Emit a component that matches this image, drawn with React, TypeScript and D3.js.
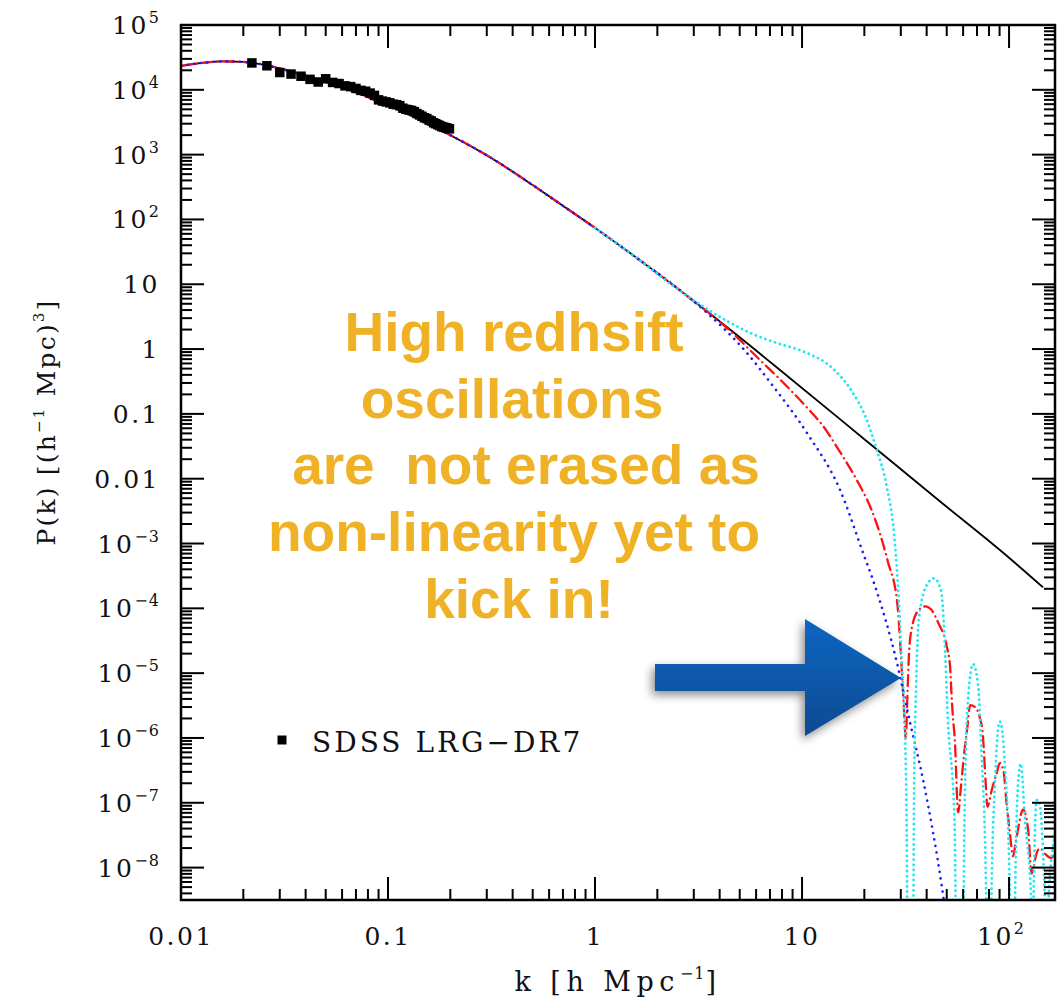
import React from "react";
import * as d3 from "d3";

const W = 1059;
const H = 1003;
const L = 181;
const T = 25;
const R = 1055;
const B = 900;

const kDomain = [0.01, Math.pow(10, 2.222)];
const pDomain = [Math.pow(10, -8.5), 1e5];

// Linear-theory (black solid) curve
const blackK = [0.01, 0.013, 0.016, 0.02, 0.025, 0.03, 0.04, 0.05, 0.07, 0.1, 0.15, 0.2, 0.3, 0.5, 0.7, 1, 1.5, 2.8, 4.6, 8.75, 20, 46, 100, 146];
const blackP = [2.34e4, 2.63e4, 2.75e4, 2.69e4, 2.45e4, 2.14e4, 1.66e4, 1.32e4, 9.12e3, 5.75e3, 3.24e3, 2.0e3, 977, 339, 162, 74.1, 29.2, 6.53, 1.88, 0.355, 0.0407, 4.57e-3, 6.03e-4, 2.1e-4];

// Blue dotted curve (high-k tail; low k follows black)
const blueK = [3.5, 5.42, 7.16, 10.6, 15.3, 19.9, 22, 28.8, 33.3, 38.5, 47.4, 52];
const blueP = [3.55, 0.87, 0.282, 0.05, 6.6e-3, 6.6e-4, 2.75e-4, 1.4e-5, 1.7e-6, 2.2e-7, 5e-9, 6e-10];

// Red dash-dot curve (high-k tail; low k follows black)
const redK = [4.64, 6.27, 7.9, 10.9, 12.6, 15, 18.4, 21.5, 24.6, 26.0, 28.8, 29.9, 31.0, 31.7, 32.4, 33.0, 34.3, 35.6, 39.3, 41.5, 45.6, 50, 51.9, 52.7, 53.7, 54.6, 56.8, 58.6, 60.7, 62.8, 64.9, 68.5, 72.1, 74.6, 77.3, 78.5, 82.6, 87.2, 90.2, 93.9, 97.2, 100.6, 104.5, 108, 117, 123.7, 128.6, 135.9, 140.6, 150, 160, 166.7];
const redP = [1.74, 0.676, 0.331, 0.112, 0.066, 0.0282, 9.5e-3, 3.5e-3, 1.0e-3, 5.2e-4, 1.26e-4, 2.5e-5, 3.2e-6, 1.0e-6, 6.3e-6, 2.5e-5, 5.9e-5, 8.3e-5, 1.07e-4, 1.0e-4, 5.9e-5, 2.6e-5, 1.26e-5, 4.9e-6, 1.9e-6, 1.05e-6, 7.1e-8, 1.8e-7, 5.8e-7, 1.4e-6, 3.2e-6, 3.0e-6, 2.1e-6, 1.17e-6, 1.8e-7, 8.7e-8, 1.6e-7, 2.9e-7, 4.1e-7, 3.2e-7, 1.0e-7, 3.8e-8, 1.5e-8, 2.6e-8, 7.8e-8, 3.8e-8, 8.1e-9, 1.66e-8, 2.0e-8, 1.6e-8, 1.4e-8, 1.8e-8];

// Cyan dotted curve
const cyanK = [1, 1.5, 2.75, 4.35, 5.68, 7.5, 10.3, 14.1, 17.3, 20.4, 22.7, 25.7, 27.8, 29.0, 30.2, 31.8, 33.0, 34.0, 34.8, 35.6, 36.7, 40.4, 43.5, 46.9, 48.7, 50.6, 54.5, 56.8, 59.0, 60.9, 63.3, 67, 70.8, 73.6, 77.6, 78.5, 81, 82.2, 85.4, 90.2, 95.7, 101, 102, 105.5, 106.9, 110.5, 113.8, 119.4, 128, 129, 130.5, 131.3, 136, 138.6, 149, 150.5, 153.5, 155, 166.7];
const cyanP = [74.1, 29.2, 6.8, 2.7, 1.75, 1.25, 0.9, 0.5, 0.23, 0.085, 0.031, 7.4e-3, 1.45e-3, 2.5e-4, 2.0e-5, 2.5e-7, 1e-12, 1e-12, 1.86e-7, 6.8e-6, 7.2e-5, 2.4e-4, 2.9e-4, 1.9e-4, 4.0e-5, 2.0e-6, 5.5e-8, 1e-12, 1e-12, 5.5e-8, 3.7e-6, 1.38e-5, 6.8e-6, 6.2e-7, 3e-9, 1e-12, 1e-12, 3e-9, 1.86e-7, 1.8e-6, 3.4e-7, 3e-9, 1e-12, 1e-12, 3e-9, 1.86e-7, 4.0e-7, 5.5e-8, 3e-9, 1e-12, 1e-12, 3e-9, 1.1e-7, 1.1e-7, 3e-9, 1e-12, 1e-12, 3e-9, 3.2e-8];

// SDSS LRG-DR7 data points
const sdssK = [0.022, 0.026, 0.030, 0.034, 0.038, 0.042, 0.046, 0.050, 0.054, 0.058, 0.062, 0.066, 0.070, 0.074, 0.078, 0.082, 0.086, 0.090, 0.094, 0.098, 0.102, 0.106, 0.110, 0.114, 0.118, 0.122, 0.126, 0.130, 0.134, 0.138, 0.142, 0.146, 0.150, 0.154, 0.158, 0.162, 0.166, 0.170, 0.174, 0.178, 0.182, 0.186, 0.190, 0.194, 0.198];
const sdssP = [2.6e4, 2.35e4, 1.85e4, 1.75e4, 1.62e4, 1.45e4, 1.32e4, 1.48e4, 1.3e4, 1.25e4, 1.15e4, 1.12e4, 1.05e4, 9.8e3, 9.5e3, 8.9e3, 8.2e3, 7.0e3, 6.7e3, 6.5e3, 6.3e3, 6.0e3, 5.9e3, 5.7e3, 5.2e3, 5.0e3, 4.9e3, 4.8e3, 4.6e3, 4.3e3, 4.1e3, 3.9e3, 3.7e3, 3.6e3, 3.4e3, 3.3e3, 3.1e3, 3.0e3, 2.9e3, 2.8e3, 2.7e3, 2.65e3, 2.6e3, 2.55e3, 2.5e3];

const xMajor = [0.01, 0.1, 1, 10, 100];
const xMajorBase = ["0.01", "0.1", "1", "10", "10"];
const xMajorExp = ["", "", "", "", "2"];
const yMajor = [1e5, 1e4, 1e3, 1e2, 10, 1, 0.1, 0.01, 1e-3, 1e-4, 1e-5, 1e-6, 1e-7, 1e-8];
const yMajorBase = ["10", "10", "10", "10", "10", "1", "0.1", "0.01", "10", "10", "10", "10", "10", "10"];
const yMajorExp = ["5", "4", "3", "2", "", "", "", "", "\u22123", "\u22124", "\u22125", "\u22126", "\u22127", "\u22128"];

const noteLines = ["High redhsift", "oscillations", "are\u00a0 not erased as", "non-linearity yet to", "kick in!"];
const noteX = [514, 512, 526, 514, 519];

const SERIF = "'DejaVu Serif', serif";
const SANS = "'Liberation Sans', Arial, 'Helvetica', sans-serif";

export default function App() {
  const x = d3.scaleLog().domain(kDomain).range([L, R]);
  const y = d3.scaleLog().domain(pDomain).range([B, T]);

  const line = d3
    .line<[number, number]>()
    .x((d) => x(d[0]))
    .y((d) => y(d[1]))
    .curve(d3.curveMonotoneX);

  const zip = (ks: number[], ps: number[]) => ks.map((k, i) => [k, ps[i]] as [number, number]);
  const black = zip(blackK, blackP);
  const lowPart = (kmax: number) => black.filter((d) => d[0] < kmax);
  const blue = lowPart(3.4).concat(zip(blueK, blueP));
  const red = lowPart(4.5).concat(zip(redK, redP));
  const cyan = zip(cyanK, cyanP);

  const xMinor: number[] = [];
  for (let e = -2; e <= 2; e++) for (let m = 2; m <= 9; m++) {
    const v = m * Math.pow(10, e);
    if (v < kDomain[1]) xMinor.push(v);
  }
  const yMinor: number[] = [];
  for (let e = -9; e <= 4; e++) for (let m = 2; m <= 9; m++) {
    const v = m * Math.pow(10, e);
    if (v > pDomain[0] && v < pDomain[1]) yMinor.push(v);
  }
  const MAJ = 23;
  const MIN = 11;
  const sq = 9.5;

  return (
    <svg width={W} height={H} viewBox={`0 0 ${W} ${H}`} style={{ display: "block", position: "absolute", left: 0, top: 0, background: "#fff" }}>
      <defs>
        <clipPath id="plotClip">
          <rect x={L} y={T} width={R - L} height={B - T} />
        </clipPath>
        <linearGradient id="arrowGrad" x1="0" y1="0" x2="0" y2="1">
          <stop offset="0%" stopColor="#0a66c2" />
          <stop offset="100%" stopColor="#0c4a92" />
        </linearGradient>
        <filter id="shadow" x="-20%" y="-30%" width="140%" height="160%">
          <feDropShadow dx="-3" dy="4" stdDeviation="5" floodColor="#000" floodOpacity="0.45" />
        </filter>
      </defs>

      <g clipPath="url(#plotClip)" fill="none">
        <path d={line(black) || ""} stroke="#000" strokeWidth={1.8} />
        <path d={line(red) || ""} stroke="#ff1010" strokeWidth={2.3} strokeDasharray="11,5,0.1,5" strokeLinecap="round" />
        <path d={line(blue) || ""} stroke="#1a1aff" strokeWidth={2.6} strokeDasharray="0.1,6.5" strokeLinecap="round" />
        <path d={line(cyan) || ""} stroke="#22e6f2" strokeWidth={2.8} strokeDasharray="0.1,5" strokeLinecap="round" />
        {sdssK.map((k, i) => (
          <rect key={i} x={x(k) - sq / 2} y={y(sdssP[i]) - sq / 2} width={sq} height={sq} fill="#000" />
        ))}
      </g>

      <rect x={L} y={T} width={R - L} height={B - T} fill="none" stroke="#000" strokeWidth={2.5} />

      <g stroke="#000" strokeWidth={2}>
        {xMajor.map((v, i) => (
          <g key={"xM" + i}>
            <line x1={x(v)} x2={x(v)} y1={B} y2={B - MAJ} />
            <line x1={x(v)} x2={x(v)} y1={T} y2={T + MAJ} />
          </g>
        ))}
        {xMinor.map((v, i) => (
          <g key={"xm" + i}>
            <line x1={x(v)} x2={x(v)} y1={B} y2={B - MIN} />
            <line x1={x(v)} x2={x(v)} y1={T} y2={T + MIN} />
          </g>
        ))}
        {yMajor.map((v, i) => (
          <g key={"yM" + i}>
            <line x1={L} x2={L + MAJ} y1={y(v)} y2={y(v)} />
            <line x1={R} x2={R - MAJ} y1={y(v)} y2={y(v)} />
          </g>
        ))}
        {yMinor.map((v, i) => (
          <g key={"ym" + i}>
            <line x1={L} x2={L + MIN} y1={y(v)} y2={y(v)} />
            <line x1={R} x2={R - MIN} y1={y(v)} y2={y(v)} />
          </g>
        ))}
      </g>

      <g fontFamily={SERIF} fontSize={25} fill="#111" letterSpacing={2.5}>
        {yMajor.map((v, i) => (
          <text key={"yl" + i} x={160} y={y(v) + 9} textAnchor="end">
            {yMajorBase[i]}
            {yMajorExp[i] ? (
              <tspan fontSize={16} dy={-11} letterSpacing={1}>{yMajorExp[i]}</tspan>
            ) : null}
          </text>
        ))}
        {xMajor.map((v, i) => (
          <text key={"xl" + i} x={x(v) - (xMajorExp[i] ? 8 : 0)} y={945} textAnchor="middle">
            {xMajorBase[i]}
            {xMajorExp[i] ? (
              <tspan fontSize={16} dy={-11} letterSpacing={1}>{xMajorExp[i]}</tspan>
            ) : null}
          </text>
        ))}
      </g>

      <text x={618} y={991} textAnchor="middle" fontFamily={SERIF} fontSize={27} fill="#111" letterSpacing={5.5}>
        k [h Mpc<tspan fontSize={16} dy={-12} letterSpacing={1}>{"\u22121"}</tspan>
        <tspan dy={12}>]</tspan>
      </text>
      <text transform={`translate(55,422) rotate(-90)`} textAnchor="middle" fontFamily={SERIF} fontSize={25} fill="#111" letterSpacing={2.2}>
        P(k) [(h<tspan fontSize={15} dy={-11}>{"\u22121"}</tspan>
        <tspan dy={11}> Mpc)</tspan>
        <tspan fontSize={15} dy={-11}>3</tspan>
        <tspan dy={11}>]</tspan>
      </text>

      <rect x={282 - 4.5} y={740 - 4.5} width={9} height={9} fill="#000" />
      <text x={312} y={752} fontFamily={SERIF} fontSize={28} fill="#111" letterSpacing={3}>
        SDSS LRG{"\u2212"}DR7
      </text>

      <g fontFamily={SANS} fontWeight="bold" fontSize={55} fill="#efb125" textAnchor="middle">
        {noteLines.map((s, i) => (
          <text key={"n" + i} x={noteX[i]} y={351 + i * 66.7}>{s}</text>
        ))}
      </g>

      <path d="M655,664 L805,664 L805,619 L901,678 L805,736 L805,691 L655,691 Z" fill="url(#arrowGrad)" filter="url(#shadow)" />
    </svg>
  );
}
